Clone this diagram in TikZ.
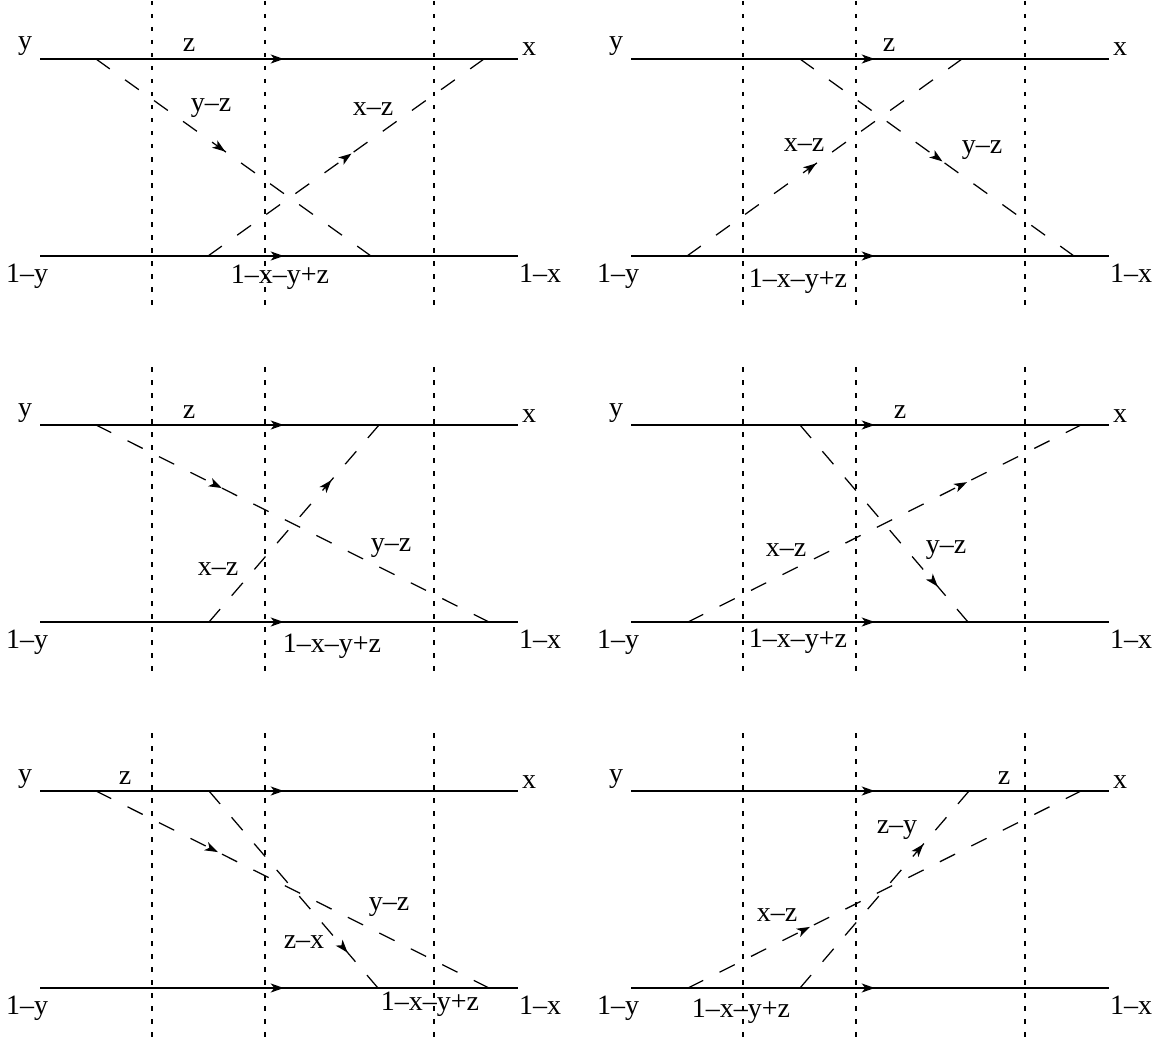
\documentclass[tikz,border=0pt]{standalone}
\usepackage{fontspec}
\setmainfont{Liberation Serif}
\usetikzlibrary{arrows.meta,decorations.markings}
\newcommand{\pbase}[1]{%
  \coordinate (#1TL) at (40,0);
  \coordinate (#1TR) at (518,0);
  \coordinate (#1BL) at (40,-197);
  \coordinate (#1BR) at (518,-197);
  \foreach \xx [count=\k] in {152,265,434}{
    \coordinate (#1Du\k) at (\xx,58);
    \coordinate (#1Dd\k) at (\xx,-247);
    \draw[dotln] (#1Du\k) -- (#1Dd\k);}
  \draw[solidln, midarr=0.51] (#1TL) -- (#1TR);
  \draw[solidln, midarr=0.51] (#1BL) -- (#1BR);
  \node[lblb] (#1y) at (25,9) {y};
  \node[lblb] (#1x) at (529,3) {x};
  \node[lblb] (#1ly) at (27,-223) {1–y};
  \node[lblb] (#1lx) at (540,-223) {1–x};
}
\begin{document}
\begin{tikzpicture}[x=1pt,y=1pt,
  lbl/.style={font=\fontsize{28}{34}\selectfont, inner sep=0pt},
  lblb/.style={lbl, anchor=base},
  solidln/.style={line width=1.5pt},
  dashfit/.code={\pgfmathsetmacro\dn{round((#1+17)/34)}\pgfmathsetmacro\dg{(#1-17*\dn)/(\dn-1)}\tikzset{dash pattern=on 17pt off \dg pt}},
  dashln/.style={line width=1.25pt, dashfit=#1},
  dotln/.style={line width=1.3pt, dash pattern=on 4.5pt off 8.5pt},
  midarr/.style={postaction={decorate}, decoration={markings, mark=at position #1 with {\arrow{Stealth[length=13pt,width=9pt,inset=3.5pt]}}}},
]
\useasboundingbox (0,0) rectangle (1159,-1038);

% Panel A
\begin{scope}[shift={(0,-59)}]
  \pbase{a}
  \node[lblb] (az) at (189,7) {z};
  \coordinate (aP) at (96,0); \coordinate (aQ) at (371,-197);
  \draw[dashln=338.3, midarr=0.47] (aP) -- (aQ);
  \coordinate (aR) at (208,-197); \coordinate (aS) at (484,0);
  \draw[dashln=339.1, midarr=0.52] (aR) -- (aS);
  \node[lbl] (ayz) at (211,-49) {y–z};
  \node[lbl] (axz) at (373,-50) {x–z};
  \node[lblb] (am) at (280,-224) {1–x–y+z};
\end{scope}

% Panel B
\begin{scope}[shift={(591,-59)}]
  \pbase{b}
  \node[lblb] (bz) at (298,7) {z};
  \coordinate (bP) at (209,0); \coordinate (bQ) at (483,-197);
  \draw[dashln=337.5, midarr=0.52] (bP) -- (bQ);
  \coordinate (bR) at (96,-197); \coordinate (bS) at (371,0);
  \draw[dashln=338.3, midarr=0.47] (bR) -- (bS);
  \node[lbl] (bxz) at (213,-86) {x–z};
  \node[lbl] (byz) at (391,-91) {y–z};
  \node[lblb] (bm) at (207,-228) {1–x–y+z};
\end{scope}

% Panel C
\begin{scope}[shift={(0,-425)}]
  \pbase{c}
  \node[lblb] (cz) at (189,7) {z};
  \coordinate (cP) at (96,0); \coordinate (cQ) at (489,-197);
  \draw[dashln=439.6, midarr=0.32] (cP) -- (cQ);
  \coordinate (cR) at (209,-197); \coordinate (cS) at (379,0);
  \draw[dashln=260.2, midarr=0.72] (cR) -- (cS);
  \node[lbl] (cyz) at (391,-123) {y–z};
  \node[lbl] (cxz) at (218,-144) {x–z};
  \node[lblb] (cm) at (332,-227) {1–x–y+z};
\end{scope}

% Panel D
\begin{scope}[shift={(591,-425)}]
  \pbase{d}
  \node[lblb] (dz) at (309,7) {z};
  \coordinate (dP) at (209,0); \coordinate (dQ) at (377,-197);
  \draw[dashln=258.9, midarr=0.82] (dP) -- (dQ);
  \coordinate (dR) at (97,-197); \coordinate (dS) at (490,0);
  \draw[dashln=439.6, midarr=0.71] (dR) -- (dS);
  \node[lbl] (dxz) at (195,-125) {x–z};
  \node[lbl] (dyz) at (355,-125) {y–z};
  \node[lblb] (dm) at (207,-222) {1–x–y+z};
\end{scope}

% Panel E
\begin{scope}[shift={(0,-791)}]
  \pbase{e}
  \node[lblb] (ez) at (125,7) {z};
  \coordinate (eP) at (96,0); \coordinate (eQ) at (489,-197);
  \draw[dashln=439.6, midarr=0.31] (eP) -- (eQ);
  \coordinate (eR) at (209,0); \coordinate (eS) at (378,-197);
  \draw[dashln=259.6, midarr=0.82] (eR) -- (eS);
  \node[lbl] (eyz) at (389,-116) {y–z};
  \node[lbl] (ezx) at (304,-151) {z–x};
  \node[lblb] (em) at (430,-219) {1–x–y+z};
\end{scope}

% Panel F
\begin{scope}[shift={(591,-791)}]
  \pbase{f}
  \node[lblb] (fz) at (413,7) {z};
  \coordinate (fP) at (209,-197); \coordinate (fQ) at (378,0);
  \draw[dashln=259.6, midarr=0.73] (fP) -- (fQ);
  \coordinate (fR) at (97,-197); \coordinate (fS) at (490,0);
  \draw[dashln=439.6, midarr=0.31] (fR) -- (fS);
  \node[lbl] (fzy) at (306,-39) {z–y};
  \node[lbl] (fxz) at (186,-124) {x–z};
  \node[lblb] (fm) at (150,-226) {1–x–y+z};
\end{scope}
\end{tikzpicture}
\end{document}
